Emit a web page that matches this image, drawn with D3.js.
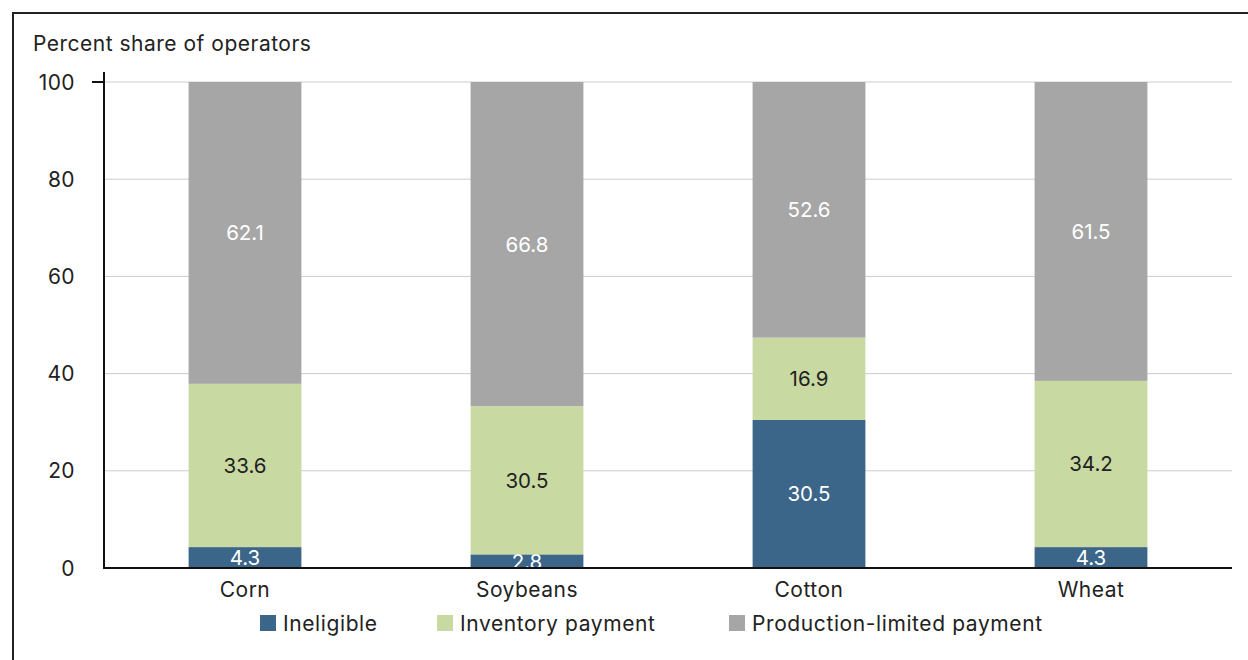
<!DOCTYPE html>
<html><head><meta charset="utf-8">
<script src="https://cdn.jsdelivr.net/npm/d3@7"></script>
<style>
body{margin:0;background:#fff;}
svg{display:block;font-family:Inter,"Noto Sans",sans-serif;}
</style></head>
<body><svg id="c" width="1248" height="660"></svg>
<script>
const categories = ["Corn","Soybeans","Cotton","Wheat"];
const seriesNames = ["Ineligible","Inventory payment","Production-limited payment"];
const ineligible = [4.3, 2.8, 30.5, 4.3];
const inventory = [33.6, 30.5, 16.9, 34.2];
const productionLimited = [62.1, 66.8, 52.6, 61.5];
const yTicks = [0,20,40,60,80,100];
const colors = ["#3b6589","#c8d9a2","#a6a6a6"];
const labelColors = ["#ffffff","#222222","#ffffff"];

(function(){
const svg = d3.select("#c");
svg.append("rect").attr("x",13).attr("y",13).attr("width",1250).attr("height",660)
  .attr("fill","none").attr("stroke","#222").attr("stroke-width",2);

const pL=104, pR=1232, pT=82, pB=568;
const x = d3.scaleBand().domain(categories).range([pL,pR]).paddingInner(0.6).paddingOuter(0.3);
const y = d3.scaleLinear().domain([0,100]).range([pB,pT]);

svg.append("text").attr("x",33).attr("y",51).attr("font-size",21).attr("letter-spacing",0.5)
  .attr("fill","#222").text("Percent share of operators");

svg.append("g").selectAll("line").data(yTicks.filter(d=>d>0)).join("line")
  .attr("x1",pL).attr("x2",pR).attr("y1",d=>y(d)).attr("y2",d=>y(d))
  .attr("stroke","#cccccc").attr("stroke-width",1);

svg.append("g").selectAll("text").data(yTicks).join("text")
  .attr("x",75).attr("y",d=>y(d)+7.5).attr("text-anchor","end").attr("font-size",21).attr("letter-spacing",0.4)
  .attr("fill","#222").text(d=>d);

const data = categories.map((c,i)=>({cat:c, "Ineligible":ineligible[i], "Inventory payment":inventory[i], "Production-limited payment":productionLimited[i]}));
const stacked = d3.stack().keys(seriesNames)(data);

stacked.forEach((s,si)=>{
  const g = svg.append("g");
  g.selectAll("rect").data(s).join("rect")
    .attr("x",d=>x(d.data.cat)).attr("width",x.bandwidth())
    .attr("y",d=>y(Math.min(d[1],100))).attr("height",d=>y(d[0])-y(Math.min(d[1],100)))
    .attr("fill",colors[si]);
  g.selectAll("text").data(s).join("text")
    .attr("x",d=>x(d.data.cat)+x.bandwidth()/2)
    .attr("y",d=>(y(d[0])+y(Math.min(d[1],100)))/2+7.5)
    .attr("text-anchor","middle").attr("font-size",20.5).attr("fill",labelColors[si])
    .text(d=>d.data[seriesNames[si]].toFixed(1));
});

svg.append("line").attr("x1",pL).attr("x2",pL).attr("y1",72).attr("y2",pB+1).attr("stroke","#111").attr("stroke-width",2);
svg.append("line").attr("x1",92).attr("x2",pL).attr("y1",y(100)).attr("y2",y(100)).attr("stroke","#111").attr("stroke-width",2);
svg.append("line").attr("x1",pL-1).attr("x2",pR).attr("y1",pB).attr("y2",pB).attr("stroke","#111").attr("stroke-width",2);

svg.append("g").selectAll("text").data(categories).join("text")
  .attr("x",d=>x(d)+x.bandwidth()/2).attr("y",597).attr("text-anchor","middle")
  .attr("font-size",21).attr("letter-spacing",0.5).attr("fill","#222").text(d=>d);

const legX = [260,437,729];
const lg = svg.append("g");
seriesNames.forEach((n,i)=>{
  lg.append("rect").attr("x",legX[i]).attr("y",615).attr("width",16).attr("height",16).attr("fill",colors[i]);
  lg.append("text").attr("x",legX[i]+23).attr("y",630.5).attr("font-size",21).attr("letter-spacing",0.6)
    .attr("fill","#222").text(n);
});
})();
</script></body></html>
